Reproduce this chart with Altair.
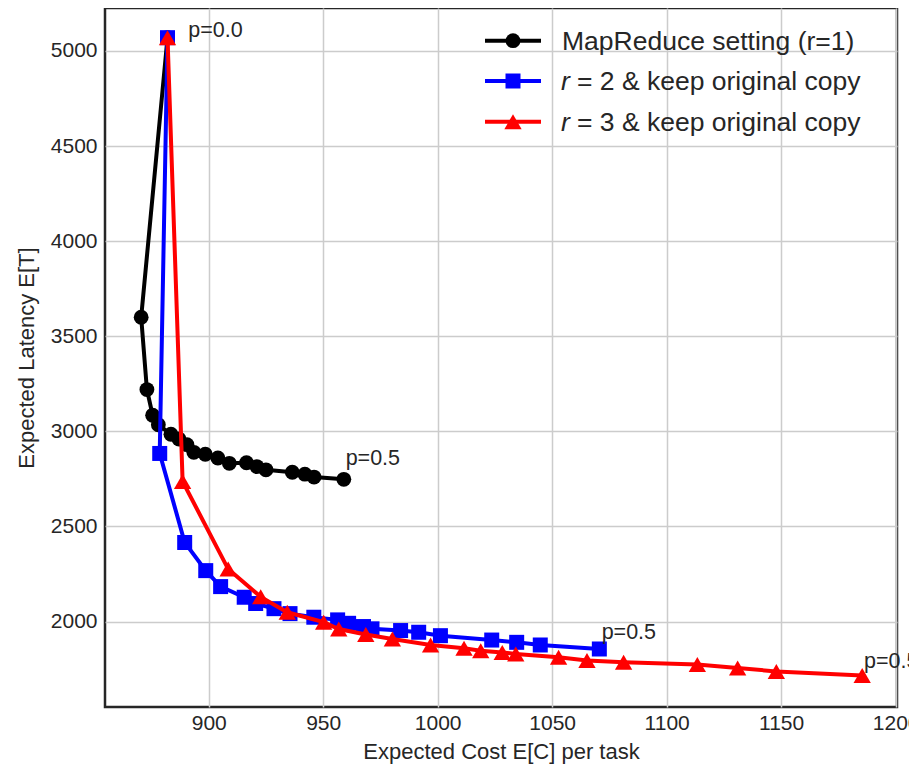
import altair as alt
import pandas as pd

# ---- data ----
black_x = [882, 870.5, 873, 875.5, 878, 883.5, 887, 890.5, 893.5, 898.5, 904, 909,
           916.5, 921, 925, 936.5, 942, 946, 959]
black_y = [5070, 3600, 3220, 3085, 3035, 2985, 2960, 2930, 2890, 2880, 2860, 2832,
           2835, 2815, 2798, 2785, 2775, 2760, 2748]

blue_x = [882, 878.6, 889.5, 898.7, 905.2, 915.5, 920.5, 928.5, 935.5, 945.9, 956.3,
          961.1, 967.6, 971.3, 983.8, 991.7, 1001.2, 1023.6, 1034.5, 1044.8, 1070.6]
blue_y = [5070, 2884, 2416, 2268, 2184, 2128, 2095, 2068, 2042, 2023, 2009, 1991,
          1974, 1962, 1953, 1944, 1926, 1903, 1891, 1877, 1856]

red_x = [882, 888.6, 908.5, 922.7, 934.3, 950.2, 956.8, 968.6, 980.2, 996.9, 1011.5,
         1018.8, 1028.2, 1034.1, 1052.8, 1065.2, 1081.2, 1113.4, 1131, 1147.9, 1185.4]
red_y = [5070, 2737, 2276, 2130, 2049, 1997, 1961, 1932, 1909, 1877, 1860, 1847,
         1838, 1830, 1812, 1795, 1786, 1774, 1756, 1738, 1716]

series_names = ["MapReduce setting (r=1)", "r = 2 & keep original copy", "r = 3 & keep original copy"]
legend_rest = ["MapReduce setting (r=1)", "= 2 & keep original copy", "= 3 & keep original copy"]
legend_italic = ["", "r", "r"]

ann_x = [891.1, 959.8, 1071.6, 1186.2]
ann_y = [5074, 2821, 1909, 1756]
ann_text = ["p=0.0", "p=0.5", "p=0.5", "p=0.5"]

x_ticks = [900, 950, 1000, 1050, 1100, 1150, 1200]
y_ticks = [2000, 2500, 3000, 3500, 4000, 4500, 5000]

FONT = "Liberation Sans"
TXT = "#262626"

colors = ["#000000", "#0000ff", "#ff0000"]
shapes = ["circle", "square", "triangle-up"]
sizes = [220, 225, 300]
LW = 4

xscale = alt.Scale(domain=[854.7, 1200.6], nice=False, zero=False)
yscale = alt.Scale(domain=[1551, 5226], nice=False, zero=False)

xaxis = alt.Axis(values=x_ticks, format="d", grid=True, gridColor="#cccccc", gridWidth=1.5,
                 ticks=False, domain=False, labelFont=FONT, labelFontSize=21,
                 labelColor=TXT, labelPadding=5, title="Expected Cost E[C] per task",
                 titleFont=FONT, titleFontSize=22, titleFontWeight="normal",
                 titleColor=TXT, titlePadding=8, labelFlush=False)
yaxis = alt.Axis(values=y_ticks, format="d", grid=True, gridColor="#cccccc", gridWidth=1.5,
                 ticks=False, domain=False, labelFont=FONT, labelFontSize=21,
                 labelColor=TXT, labelPadding=8, title="Expected Latency E[T]",
                 titleFont=FONT, titleFontSize=22, titleFontWeight="normal",
                 titleColor=TXT, titlePadding=12)

data = [(black_x, black_y), (blue_x, blue_y), (red_x, red_y)]

layers = []
for k, (xs, ys) in enumerate(data):
    d = pd.DataFrame({"cost": xs, "latency": ys, "idx": list(range(len(xs)))})
    base = alt.Chart(d)
    if k == 0:
        enc_x = alt.X("cost:Q", scale=xscale, axis=xaxis)
        enc_y = alt.Y("latency:Q", scale=yscale, axis=yaxis)
    else:
        enc_x = alt.X("cost:Q", scale=xscale)
        enc_y = alt.Y("latency:Q", scale=yscale)
    line = base.mark_line(color=colors[k], strokeWidth=LW).encode(
        x=enc_x, y=enc_y, order="idx:Q")
    pts = base.mark_point(shape=shapes[k], filled=True, color=colors[k],
                          size=sizes[k], opacity=1).encode(
        x=alt.X("cost:Q", scale=xscale), y=alt.Y("latency:Q", scale=yscale))
    layers += [line, pts]

ann = alt.Chart(pd.DataFrame({"x": ann_x, "y": ann_y, "t": ann_text})).mark_text(
    align="left", baseline="alphabetic", font=FONT, fontSize=21.5, color=TXT
).encode(x=alt.X("x:Q", scale=xscale), y=alt.Y("y:Q", scale=yscale), text="t:N")
layers.append(ann)

# legend (upper right, no frame)
leg_y = [32.7, 73, 113.7]
LFS = 26.5
for k in range(3):
    one = pd.DataFrame({"name": [series_names[k]], "rest": [legend_rest[k]],
                        "it": [legend_italic[k]]})
    b = alt.Chart(one)
    layers.append(b.mark_rule(color=colors[k], strokeWidth=LW).encode(
        x=alt.value(380), x2=alt.value(436), y=alt.value(leg_y[k])))
    layers.append(b.mark_point(shape=shapes[k], filled=True, color=colors[k],
                               size=sizes[k], opacity=1).encode(
        x=alt.value(408), y=alt.value(leg_y[k])))
    if legend_italic[k]:
        layers.append(b.mark_text(align="left", baseline="middle", font=FONT,
                                  fontSize=LFS, fontStyle="italic", color=TXT).encode(
            x=alt.value(456), y=alt.value(leg_y[k] + 1), text="it:N"))
        layers.append(b.mark_text(align="left", baseline="middle", font=FONT,
                                  fontSize=LFS, color=TXT).encode(
            x=alt.value(472), y=alt.value(leg_y[k] + 1), text="rest:N"))
    else:
        layers.append(b.mark_text(align="left", baseline="middle", font=FONT,
                                  fontSize=LFS, color=TXT).encode(
            x=alt.value(457), y=alt.value(leg_y[k] + 1), text="rest:N"))

chart = alt.layer(*layers).properties(
    width=792, height=699,
    autosize=alt.AutoSizeParams(type="none"),
    padding={"left": 97, "top": 0, "right": 12, "bottom": 60},
    background="white",
).configure_view(stroke="#262626", strokeWidth=2.5)

chart.save("out.html", embed_options={"renderer": "svg", "actions": False})
